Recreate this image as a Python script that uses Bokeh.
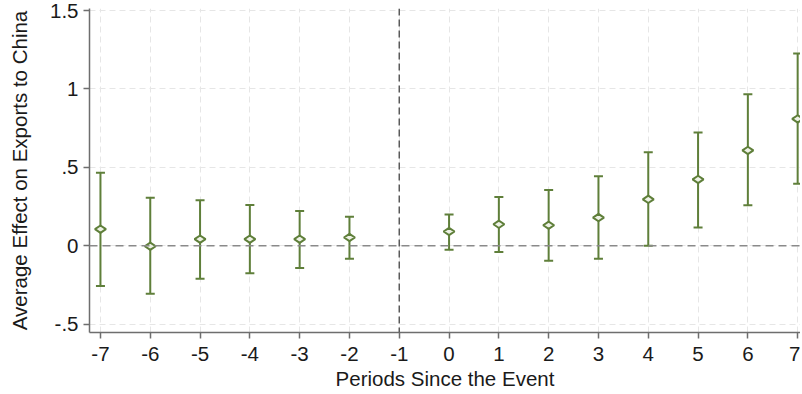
from bokeh.plotting import figure
from bokeh.models import ColumnDataSource, Range1d, Span, Whisker, TeeHead, FixedTicker
from bokeh.embed import file_html
from bokeh.resources import INLINE
import math

periods = [-7, -6, -5, -4, -3, -2, 0, 1, 2, 3, 4, 5, 6, 7]
coef = [0.106, -0.003, 0.042, 0.042, 0.042, 0.053, 0.091, 0.137, 0.131, 0.180, 0.296, 0.423, 0.608, 0.809]
ci_low = [-0.257, -0.306, -0.211, -0.175, -0.141, -0.082, -0.025, -0.040, -0.095, -0.082, 0.000, 0.117, 0.258, 0.395]
ci_high = [0.465, 0.307, 0.290, 0.260, 0.222, 0.185, 0.200, 0.311, 0.355, 0.444, 0.596, 0.722, 0.966, 1.226]

x_ticks = [-7, -6, -5, -4, -3, -2, -1, 0, 1, 2, 3, 4, 5, 6, 7]
x_tick_labels = ["-7", "-6", "-5", "-4", "-3", "-2", "-1", "0", "1", "2", "3", "4", "5", "6", "7"]
y_ticks = [-0.5, 0, 0.5, 1, 1.5]
y_tick_labels = ["-.5", "0", ".5", "1", "1.5"]

GREEN = "#5f7f3a"
FONT = "Liberation Sans"

src = ColumnDataSource(dict(x=periods, y=coef, lo=ci_low, hi=ci_high))

p = figure(width=800, height=392, output_backend="svg", toolbar_location=None,
           x_range=Range1d(-7.22, 7.057), y_range=Range1d(-0.553, 1.513),
           min_border_left=89, min_border_bottom=58, min_border_top=8, min_border_right=0,
           background_fill_color="white", border_fill_color="white")
p.outline_line_color = None

# grid
p.xgrid.ticker = FixedTicker(ticks=x_ticks)
p.ygrid.ticker = FixedTicker(ticks=y_ticks)
for g in (p.xgrid, p.ygrid):
    g.grid_line_color = "#e6e6e6"
    g.grid_line_dash = "6 4"
    g.grid_line_width = 1

# axes
p.xaxis.ticker = FixedTicker(ticks=x_ticks)
p.yaxis.ticker = FixedTicker(ticks=y_ticks)
p.xaxis.major_label_overrides = {v: s for v, s in zip(x_ticks, x_tick_labels)}
p.yaxis.major_label_overrides = {v: s for v, s in zip(y_ticks, y_tick_labels)}
p.xaxis.axis_label = "Periods Since the Event"
p.yaxis.axis_label = "Average Effect on Exports to China"
for ax in (p.xaxis, p.yaxis):
    ax.axis_line_color = "#6e6e6e"
    ax.axis_line_width = 1.5
    ax.major_tick_line_color = "#6e6e6e"
    ax.major_tick_line_width = 1.5
    ax.major_tick_out = 6
    ax.major_tick_in = 0
    ax.minor_tick_line_color = None
    ax.major_label_text_font = FONT
    ax.major_label_text_font_size = "20.5px"
    ax.major_label_text_color = "#1a1a1a"
    ax.axis_label_text_font = FONT
    ax.axis_label_text_font_size = "20.5px"
    ax.axis_label_text_font_style = "normal"
    ax.axis_label_text_color = "#1a1a1a"
p.xaxis.major_label_standoff = 8
p.xaxis.axis_label_standoff = 3
p.yaxis.major_label_standoff = 5
p.yaxis.axis_label_standoff = 16

# reference lines
p.add_layout(Span(location=0, dimension="width", line_color="#8a8a8a",
                  line_dash="8 5", line_width=1.5))
p.add_layout(Span(location=-1, dimension="height", line_color="#5a5a5a",
                  line_dash="7 4", line_width=1.5))

# confidence intervals
w = Whisker(source=src, base="x", lower="lo", upper="hi", dimension="height",
            line_color=GREEN, line_width=2,
            upper_head=TeeHead(size=9, line_color=GREEN, line_width=2),
            lower_head=TeeHead(size=9, line_color=GREEN, line_width=2))
p.add_layout(w)

# point estimates (hollow diamonds, wider than tall)
p.scatter("x", "y", source=src, marker="diamond", size=11, angle=math.pi / 2,
          line_color=GREEN, line_width=2, fill_color="#eef2e6")

open("out.html", "w").write(file_html(p, INLINE))
